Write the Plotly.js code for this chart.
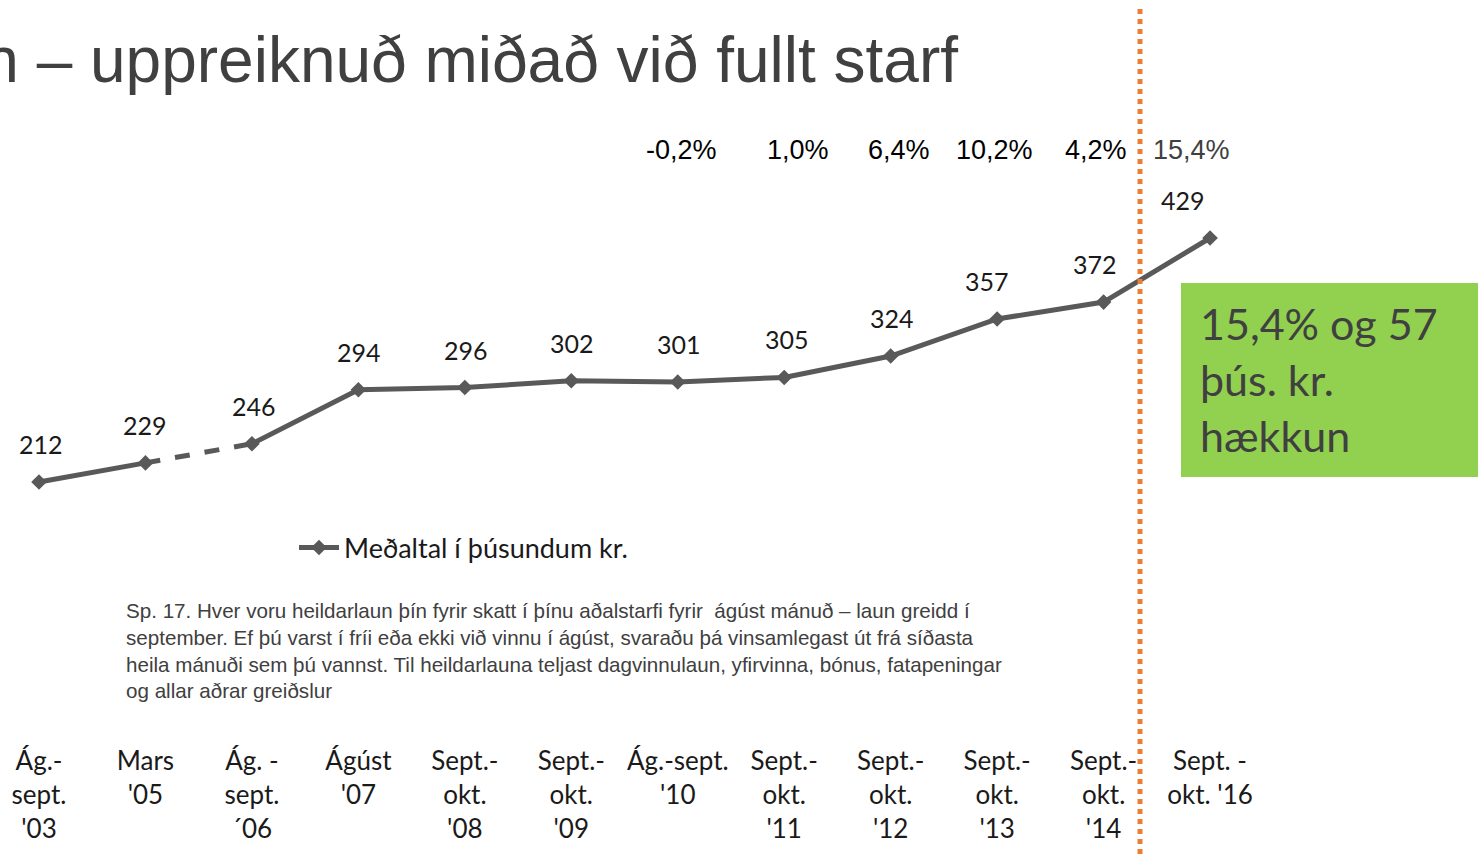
<!DOCTYPE html>
<html>
<head>
<meta charset="utf-8">
<script src="https://cdn.plot.ly/plotly-3.0.1.min.js"></script>
<style>html,body{margin:0;padding:0;background:#fff;}#chart{width:1480px;height:854px;}</style>
</head>
<body>
<div id="chart"></div>
<script>
// ---- data ----
const categories = ["Ág.-<br>sept.<br>'03", "Mars<br>'05", "Ág. -<br>sept.<br>´06", "Ágúst<br>'07",
  "Sept.-<br>okt.<br>'08", "Sept.-<br>okt.<br>'09", "Ág.-sept.<br>'10", "Sept.-<br>okt.<br>'11",
  "Sept.-<br>okt.<br>'12", "Sept.-<br>okt.<br>'13", "Sept.-<br>okt.<br>'14", "Sept. -<br>okt. '16"];
const values = [212, 229, 246, 294, 296, 302, 301, 305, 324, 357, 372, 429];
const changeLabels = ["-0,2%", "1,0%", "6,4%", "10,2%", "4,2%", "15,4%"];
const changeStart = 6;
const seriesName = "Meðaltal í þúsundum kr.";
const titleText = "n – uppreiknuð miðað við fullt starf";
const boxText = "15,4% og 57<br>þús. kr.<br>hækkun";
const captionText = "Sp. 17. Hver voru heildarlaun þín fyrir skatt í þínu aðalstarfi fyrir  ágúst mánuð – laun greidd í<br>" +
  "september. Ef þú varst í fríi eða ekki við vinnu í ágúst, svaraðu þá vinsamlegast út frá síðasta<br>" +
  "heila mánuði sem þú vannst. Til heildarlauna teljast dagvinnulaun, yfirvinna, bónus, fatapeningar<br>" +
  "og allar aðrar greiðslur";

// ---- layout helpers ----
const W = 1480, PH = 743; // plot area height in px (top margin 0)
const px = v => v / W;
const py = v => 1 - v / PH;
const idx = categories.map((c, i) => i);
const lineColor = "#595959";
const calibri = "Lato, 'Open Sans', sans-serif";
const arial = "'Liberation Sans', Arial, sans-serif";

const seg = (a, b) => ({ x: idx.slice(a, b + 1), y: values.slice(a, b + 1) });
const baseTrace = {
  type: "scatter", mode: "lines+markers",
  line: { color: lineColor, width: 5 },
  marker: { symbol: "diamond", size: 12, color: lineColor },
  hoverinfo: "skip"
};
const traces = [
  Object.assign({}, baseTrace, seg(0, 1), { showlegend: false, name: seriesName }),
  Object.assign({}, baseTrace, seg(1, 2), { showlegend: false, name: seriesName, mode: "lines",
    line: { color: lineColor, width: 5, dash: "dash" } }),
  Object.assign({}, baseTrace, seg(2, values.length - 1), { showlegend: true, name: seriesName })
];

const labelShift = [2, 0, 2, 1, 1, 1, 1, 3, 1, -10, -9, -27];
const annotations = values.map((v, i) => ({
  x: i, y: v, xref: "x", yref: "y", text: String(v), showarrow: false,
  yanchor: "middle", xanchor: "center", yshift: 38, xshift: labelShift[i],
  font: { family: calibri, size: 25, color: "#1a1a1a" }
}));

const pctShift = [4, 14, 8, -3, -8, -19];
changeLabels.forEach((t, k) => {
  annotations.push({
    x: changeStart + k, xref: "x", y: py(150), yref: "paper", text: t, showarrow: false,
    xanchor: "center", yanchor: "middle", xshift: pctShift[k],
    font: { family: arial, size: 27, color: k === changeLabels.length - 1 ? "#404040" : "#000000" }
  });
});

annotations.push({
  x: px(1198), xref: "paper", y: py(379), yref: "paper", text: boxText, showarrow: false,
  xanchor: "left", yanchor: "middle", align: "left",
  font: { family: calibri, size: 43, color: "#404040" }
});
annotations.push({
  x: px(124), xref: "paper", y: py(597), yref: "paper", text: captionText, showarrow: false,
  xanchor: "left", yanchor: "top", align: "left",
  font: { family: arial, size: 20.6, color: "#404040" }
});

const layout = {
  width: 1480, height: 854,
  margin: { l: 0, r: 0, t: 0, b: 854 - PH, pad: 0 },
  paper_bgcolor: "#ffffff", plot_bgcolor: "#ffffff",
  title: {
    text: titleText, xref: "paper", x: px(958), xanchor: "right",
    yref: "container", y: 1 - 60 / 854, yanchor: "middle",
    font: { family: arial, size: 64, color: "#404040" }
  },
  xaxis: {
    range: [-39 / 106.46, (W - 39) / 106.46],
    tickmode: "array", tickvals: idx, ticktext: categories,
    showgrid: false, zeroline: false, showline: false, ticks: "",
    tickfont: { family: calibri, size: 26, color: "#1a1a1a" },
    fixedrange: true
  },
  yaxis: {
    range: [212 - (PH - 482) / (244 / 217), 212 + 482 / (244 / 217)],
    visible: false, showgrid: false, zeroline: false, fixedrange: true
  },
  showlegend: true,
  legend: {
    x: px(294), xanchor: "left", y: py(548), yanchor: "middle",
    bgcolor: "rgba(0,0,0,0)", font: { family: calibri, size: 27, color: "#1a1a1a" },
    itemwidth: 40
  },
  shapes: [
    { type: "rect", xref: "paper", yref: "paper", x0: px(1181), x1: px(1478), y0: py(477), y1: py(283),
      fillcolor: "#92D050", line: { width: 0 }, layer: "below" },
    { type: "line", xref: "paper", yref: "paper", x0: px(1140), x1: px(1140), y0: py(854), y1: py(8),
      line: { color: "#ED7D31", width: 5, dash: "dot" } }
  ],
  annotations: annotations
};

Plotly.newPlot("chart", traces, layout, { displayModeBar: false, staticPlot: true });
</script>
</body>
</html>
